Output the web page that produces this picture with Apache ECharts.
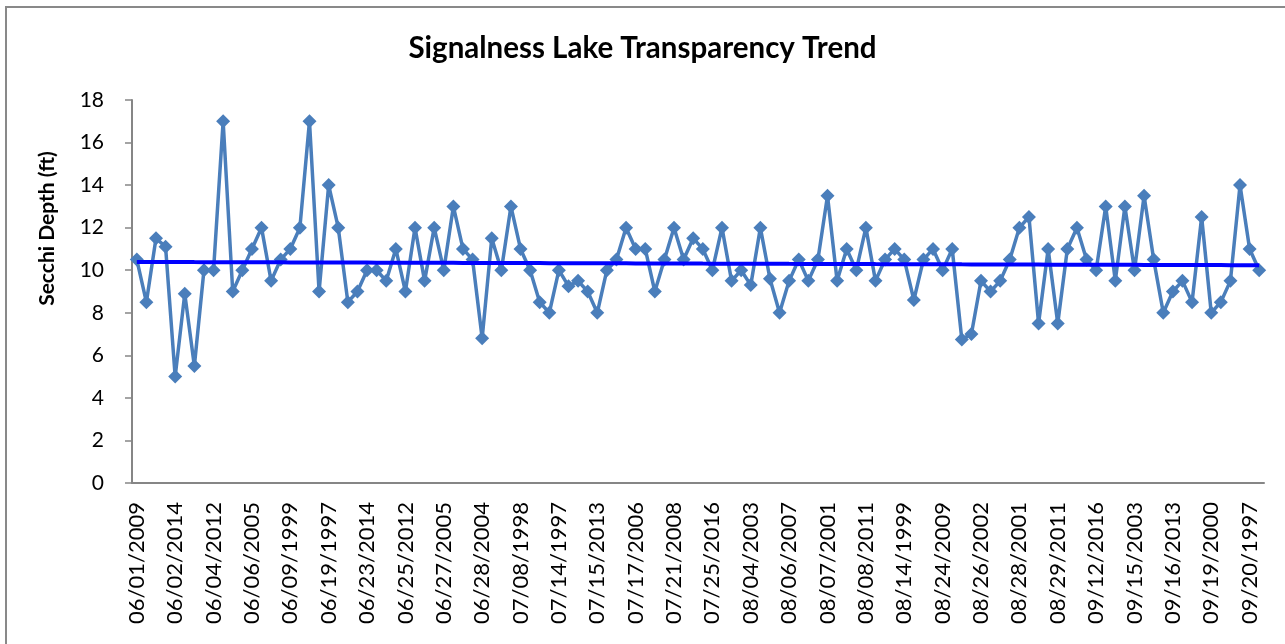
<!DOCTYPE html>
<html>
<head>
<meta charset="utf-8">
<script src="https://cdn.jsdelivr.net/npm/echarts@6/dist/echarts.min.js"></script>
<style>
  html, body { margin: 0; padding: 0; background: #fff; }
  #chart { width: 1285px; height: 644px; }
</style>
</head>
<body>
<div id="chart"></div>
<script>
// tick labels shown on the x axis (every 4th sample)
const dateLabels = ['06/01/2009','06/02/2014','06/04/2012','06/06/2005','06/09/1999','06/19/1997',
  '06/23/2014','06/25/2012','06/27/2005','06/28/2004','07/08/1998','07/14/1997','07/15/2013',
  '07/17/2006','07/21/2008','07/25/2016','08/04/2003','08/06/2007','08/07/2001','08/08/2011',
  '08/14/1999','08/24/2009','08/26/2002','08/28/2001','08/29/2011','09/12/2016','09/15/2003',
  '09/16/2013','09/19/2000','09/20/1997']

// secchi depth readings (ft)
const depth = [10.5, 8.5, 11.5, 11.1, 5, 8.9, 5.5, 10, 10, 17,
  9, 10, 11, 12, 9.5, 10.5, 11, 12, 17, 9,
  14, 12, 8.5, 9, 10, 10, 9.5, 11, 9, 12,
  9.5, 12, 10, 13, 11, 10.5, 6.8, 11.5, 10, 13,
  11, 10, 8.5, 8, 10, 9.25, 9.5, 9, 8, 10,
  10.5, 12, 11, 11, 9, 10.5, 12, 10.5, 11.5, 11,
  10, 12, 9.5, 10, 9.3, 12, 9.6, 8, 9.5, 10.5,
  9.5, 10.5, 13.5, 9.5, 11, 10, 12, 9.5, 10.5, 11,
  10.5, 8.6, 10.5, 11, 10, 11, 6.75, 7, 9.5, 9,
  9.5, 10.5, 12, 12.5, 7.5, 11, 7.5, 11, 12, 10.5,
  10, 13, 9.5, 13, 10, 13.5, 10.5, 8, 9, 9.5,
  8.5, 12.5, 8, 8.5, 9.5, 14, 11, 10]

const categories = depth.map((v, i) => (i % 4 === 0 ? dateLabels[i / 4] : ''))

// linear trend line (least squares), like the spreadsheet's trendline
const n = depth.length
let sx = 0, sy = 0, sxy = 0, sxx = 0
depth.forEach((v, i) => { sx += i; sy += v; sxy += i * v; sxx += i * i })
const slope = (n * sxy - sx * sy) / (n * sxx - sx * sx)
const intercept = (sy - slope * sx) / n
const trend = depth.map((v, i) => +(intercept + slope * i).toFixed(3))

const axisGray = '#868686'
const font = 'Lato, "Liberation Sans", sans-serif'

const myChart = echarts.init(document.getElementById('chart'))
const option = {
  animation: false,
  textStyle: { fontFamily: font },
  title: {
    text: 'Signalness Lake Transparency Trend',
    left: 'center',
    top: 28,
    textStyle: { fontFamily: font, fontSize: 29.5, fontWeight: 'bold', color: '#000' },
  },
  graphic: [
    {
      type: 'rect',
      shape: { x: 6, y: 7, width: 1300, height: 700 },
      style: { fill: 'none', stroke: '#898989', lineWidth: 2 },
      silent: true,
    },
  ],
  grid: {
    left: 132,
    right: 21,
    top: 100,
    bottom: 161,
  },
  xAxis: {
    type: 'category',
    data: categories,
    boundaryGap: true,
    axisLine: { lineStyle: { color: axisGray, width: 2 } },
    axisTick: { interval: 0, length: 6, lineStyle: { color: axisGray, width: 1.5 } },
    axisLabel: {
      interval: 3,
      rotate: 90,
      margin: 19,
      fontSize: 22,
      color: '#000',
      fontFamily: font,
    },
    splitLine: { show: false },
  },
  yAxis: {
    type: 'value',
    min: 0,
    max: 18,
    interval: 2,
    name: 'Secchi Depth (ft)',
    nameLocation: 'middle',
    nameGap: 74,
    nameTextStyle: {
      fontFamily: font,
      fontSize: 21,
      fontWeight: 'bold',
      color: '#000',
      padding: [0, 0, 0, 126],
    },
    axisLine: { show: true, lineStyle: { color: axisGray, width: 2 } },
    axisTick: { show: true, length: 7, lineStyle: { color: axisGray, width: 1.5 } },
    axisLabel: { margin: 28, fontSize: 21, color: '#000', fontFamily: font },
    splitLine: { show: false },
  },
  series: [
    {
      name: 'Secchi Depth',
      type: 'line',
      data: depth,
      color: '#4a7ebb',
      symbol: 'diamond',
      symbolSize: 14,
      showAllSymbol: true,
      lineStyle: { width: 3.5, color: '#4a7ebb' },
      itemStyle: { color: '#4a7ebb' },
      z: 2,
    },
    {
      name: 'Trend',
      type: 'line',
      data: trend,
      showSymbol: false,
      symbol: 'none',
      lineStyle: { width: 4, color: '#0000ff' },
      z: 3,
    },
  ],
}
myChart.setOption(option)
window.addEventListener('resize', function () {
  myChart.resize()
})
</script>
</body>
</html>
